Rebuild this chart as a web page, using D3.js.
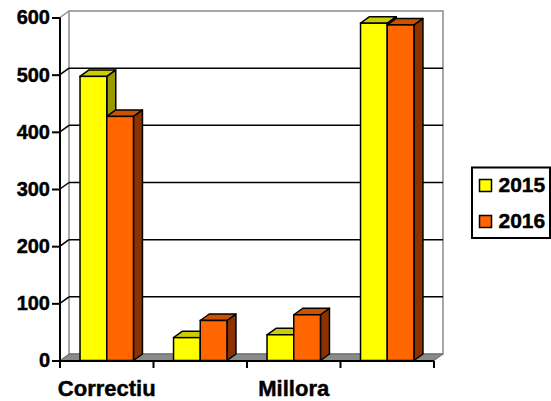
<!DOCTYPE html>
<html><head><meta charset="utf-8">
<script src="https://cdn.jsdelivr.net/npm/d3@7/dist/d3.min.js"></script>
<style>
html,body{margin:0;padding:0;background:#fff;}
svg{display:block;}
text{font-family:"Liberation Sans",Arial,sans-serif;font-weight:bold;fill:#000;stroke:#000;stroke-width:0.45px;}
</style></head>
<body>
<svg id="chart" width="551" height="401"></svg>
<script>
const categories = ["Correctiu", "", "Millora", ""];
const series = ["2015", "2016"];
const values2015 = [497, 40, 45, 590];
const values2016 = [427, 70, 80, 587];
const yTicks = [0, 100, 200, 300, 400, 500, 600];
const colors = {"2015": {front: "#FFFF00", top: "#CCCC00", side: "#999900"},
                "2016": {front: "#FF6600", top: "#CC5200", side: "#8A3300"}};

const svg = d3.select("#chart");
const DX = 9, DY = -6.5;
const x = d3.scaleBand().domain(categories.map((c,i)=>i)).range([60, 434]).paddingInner(0).paddingOuter(0);
const xs = d3.scaleBand().domain(series).range([0, x.bandwidth()]).paddingInner(0).paddingOuter(0.75);
const y = d3.scaleLinear().domain([0, 600]).range([360.5, 17.5]);
const x0 = 60, x1 = 434;

// back wall
const wall = svg.append("g");
wall.append("rect").attr("x", x0+DX).attr("y", y(600)+DY).attr("width", x1-x0).attr("height", y(0)-y(600))
  .attr("fill", "#fff").attr("stroke", "#8c8c8c").attr("stroke-width", 1.5);
yTicks.filter(v => v > 0 && v < 600).forEach(v => {
  wall.append("line").attr("x1", x0+DX).attr("x2", x1+DX).attr("y1", y(v)+DY).attr("y2", y(v)+DY)
    .attr("stroke", "#000").attr("stroke-width", 1.5);
  wall.append("line").attr("x1", x0).attr("x2", x0+DX).attr("y1", y(v)).attr("y2", y(v)+DY)
    .attr("stroke", "#000").attr("stroke-width", 1.5);
});
wall.append("line").attr("x1", x0).attr("x2", x0+DX).attr("y1", y(600)).attr("y2", y(600)+DY)
  .attr("stroke", "#8c8c8c").attr("stroke-width", 1.5);

// floor
svg.append("polygon")
  .attr("points", [[x0, y(0)], [x1, y(0)], [x1+DX, y(0)+DY], [x0+DX, y(0)+DY]].map(p => p.join(",")).join(" "))
  .attr("fill", "#8a8a8a").attr("stroke", "#666").attr("stroke-width", 1);

// bars
const bars = svg.append("g");
categories.forEach((c, i) => {
  series.forEach(s => {
    const v = (s === "2015" ? values2015 : values2016)[i];
    const bx = x(i) + xs(s), bw = xs.bandwidth(), by = y(v), b0 = y(0);
    const col = colors[s];
    bars.append("polygon").attr("points", [[bx+bw, by], [bx+bw+DX, by+DY], [bx+bw+DX, b0+DY], [bx+bw, b0]].map(p=>p.join(",")).join(" "))
      .attr("fill", col.side).attr("stroke", "#000").attr("stroke-width", 1.5).attr("stroke-linejoin", "round");
    bars.append("polygon").attr("points", [[bx, by], [bx+DX, by+DY], [bx+bw+DX, by+DY], [bx+bw, by]].map(p=>p.join(",")).join(" "))
      .attr("fill", col.top).attr("stroke", "#000").attr("stroke-width", 1.5).attr("stroke-linejoin", "round");
    bars.append("rect").attr("x", bx).attr("y", by).attr("width", bw).attr("height", b0 - by)
      .attr("fill", col.front).attr("stroke", "#000").attr("stroke-width", 1.5);
  });
});

// y axis
const yAxis = svg.append("g").attr("transform", `translate(${x0},0)`)
  .call(d3.axisLeft(y).tickValues(yTicks).tickSize(8).tickPadding(2).tickFormat(d3.format("d")));
yAxis.select(".domain").attr("stroke", "#000").attr("stroke-width", 2).attr("d", `M0,${y(600)}V${y(0)+1}`);
yAxis.selectAll(".tick line").attr("stroke", "#000").attr("stroke-width", 2);
yAxis.selectAll(".tick text").attr("font-size", 20).attr("font-family", "Liberation Sans, Arial, sans-serif")
  .attr("font-weight", "bold").attr("fill", "#000");

// x axis
const xAxis = svg.append("g").attr("transform", `translate(0,${y(0)+0.5})`);
xAxis.append("line").attr("x1", x0).attr("x2", x1).attr("stroke", "#000").attr("stroke-width", 2);
d3.range(categories.length + 1).forEach(k => {
  const tx = x0 + k * x.step();
  xAxis.append("line").attr("x1", tx).attr("x2", tx).attr("y1", 0).attr("y2", 7).attr("stroke", "#000").attr("stroke-width", 2);
});
categories.forEach((c, i) => {
  if (!c) return;
  xAxis.append("text").attr("x", x(i) + x.bandwidth()/2).attr("y", 35).attr("text-anchor", "middle")
    .attr("font-size", 22).text(c);
});

// legend
const lg = svg.append("g");
lg.append("rect").attr("x", 472).attr("y", 167.5).attr("width", 78).attr("height", 70.5)
  .attr("fill", "#fff").attr("stroke", "#000").attr("stroke-width", 2);
series.forEach((s, k) => {
  lg.append("rect").attr("x", 479.5).attr("y", 179.5 + k*36).attr("width", 12).attr("height", 12)
    .attr("fill", colors[s].front).attr("stroke", "#000").attr("stroke-width", 1.5);
  lg.append("text").attr("x", 498.5).attr("y", 191.5 + k*36).attr("font-size", 21).text(s);
});
</script>
</body></html>
